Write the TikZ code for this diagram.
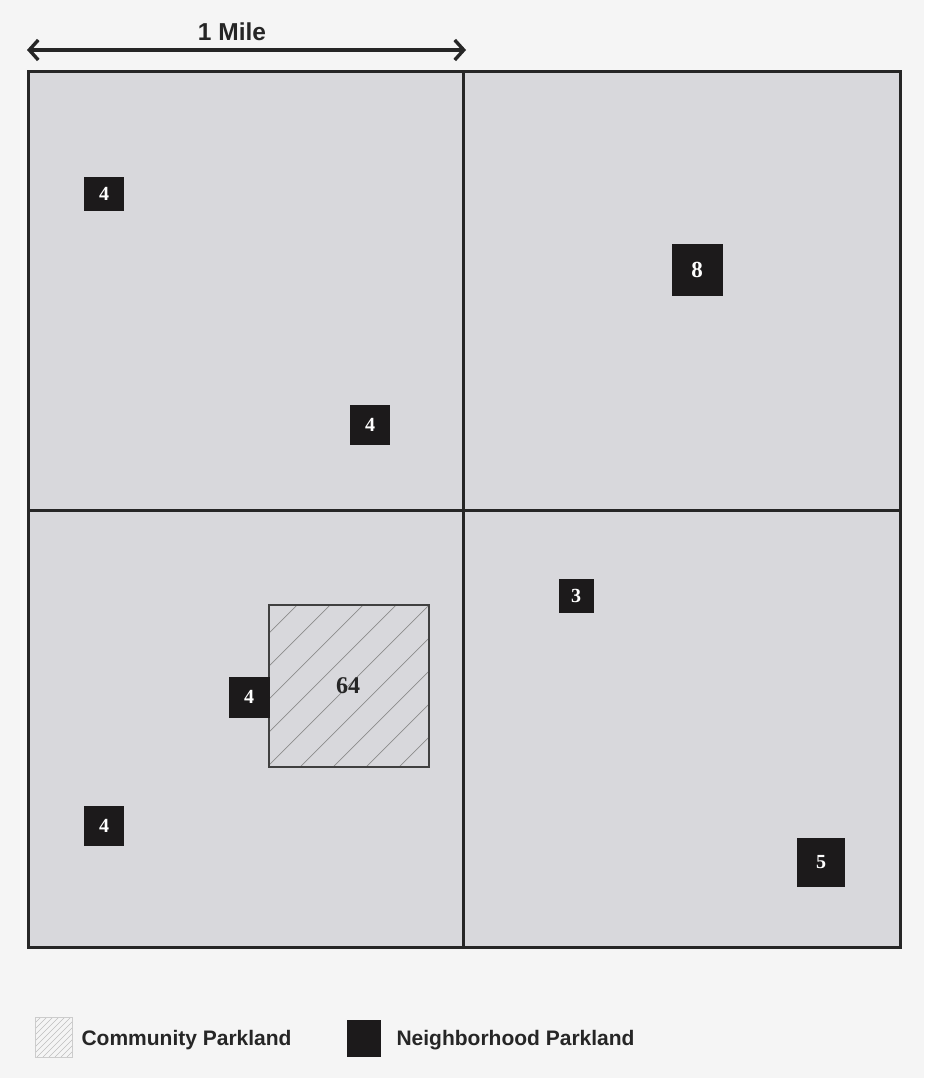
\documentclass[tikz,border=0pt]{standalone}
\usepackage{fontspec}
\setmainfont{Liberation Serif}
\setsansfont{Liberation Sans}
\usetikzlibrary{arrows.meta}
\definecolor{bg}{HTML}{F5F5F5}
\definecolor{quad}{HTML}{D8D8DC}
\definecolor{park}{HTML}{1C1A1B}
\tikzset{
  quadbox/.style={draw=black!85, line width=3pt, fill=quad},
  nbox/.style={fill=park, text=white, font=\rmfamily\bfseries\fontsize{20}{24}\selectfont, inner sep=0pt, anchor=center},
  legtext/.style={font=\sffamily\bfseries\fontsize{21}{25}\selectfont, anchor=west, text=black!85},
}
\begin{document}
\begin{tikzpicture}[x=1pt,y=-1pt]
\fill[bg] (0,0) rectangle (924,1078);
\useasboundingbox (0,0) rectangle (924,1078);
% quadrants
\draw[quadbox] (28,72) rectangle (463,510);
\draw[quadbox] (463,72) rectangle (900,510);
\draw[quadbox] (28,510) rectangle (463,947);
\draw[quadbox] (463,510) rectangle (900,947);
% scale arrow
\coordinate (al) at (27,50);
\coordinate (ar) at (466,50);
\draw[line width=3.4pt, black!85, {Straight Barb[length=9pt,width=20pt,line width=3.4pt]}-{Straight Barb[length=9pt,width=20pt,line width=3.4pt]}] (al) -- (ar);
\node[font=\sffamily\bfseries\fontsize{24.5}{28}\selectfont, text=black!85] (mile) at (232,32) {1 Mile};
% community parkland
\begin{scope}
\clip (269,605) rectangle (429,767);
\foreach \i in {0,...,14} {
  \draw[black!45, line width=0.7pt] (269+\i*33-200,767+0) -- ++(260,-260);
}
\end{scope}
\node[draw=black!75, line width=1.2pt, minimum width=160pt, minimum height=162pt, inner sep=0pt] (comm) at (349,686) {};
\node[font=\rmfamily\bfseries\fontsize{24}{28}\selectfont, text=black!85] (c64) at (348,686) {64};
% neighborhood parks
\node[nbox, minimum width=40pt, minimum height=34pt] (n1) at (104,194) {4};
\node[nbox, minimum width=40pt, minimum height=40pt] (n2) at (370,425) {4};
\node[nbox, minimum width=51pt, minimum height=52pt, font=\rmfamily\bfseries\fontsize{23}{27}\selectfont] (n3) at (697,270) {8};
\node[nbox, minimum width=35pt, minimum height=34pt] (n4) at (576,596) {3};
\node[nbox, minimum width=41pt, minimum height=41pt] (n5) at (249,697) {4};
\node[nbox, minimum width=40pt, minimum height=40pt] (n6) at (104,826) {4};
\node[nbox, minimum width=48pt, minimum height=49pt] (n7) at (821,862) {5};
% legend
\begin{scope}
\clip (35,1017) rectangle (72,1057);
\foreach \i in {0,...,16} {
  \draw[black!25, line width=0.6pt] (35+\i*6-40,1057) -- ++(45,-45);
}
\end{scope}
\node[draw=black!20, line width=0.7pt, minimum width=37pt, minimum height=40pt, inner sep=0pt] (lc) at (53.5,1037) {};
\node[legtext] (lct) at (78,1040) {Community Parkland};
\node[fill=park, minimum width=34pt, minimum height=37pt, inner sep=0pt] (ln) at (364,1038) {};
\node[legtext] (lnt) at (393,1040) {Neighborhood Parkland};
\end{tikzpicture}
\end{document}
